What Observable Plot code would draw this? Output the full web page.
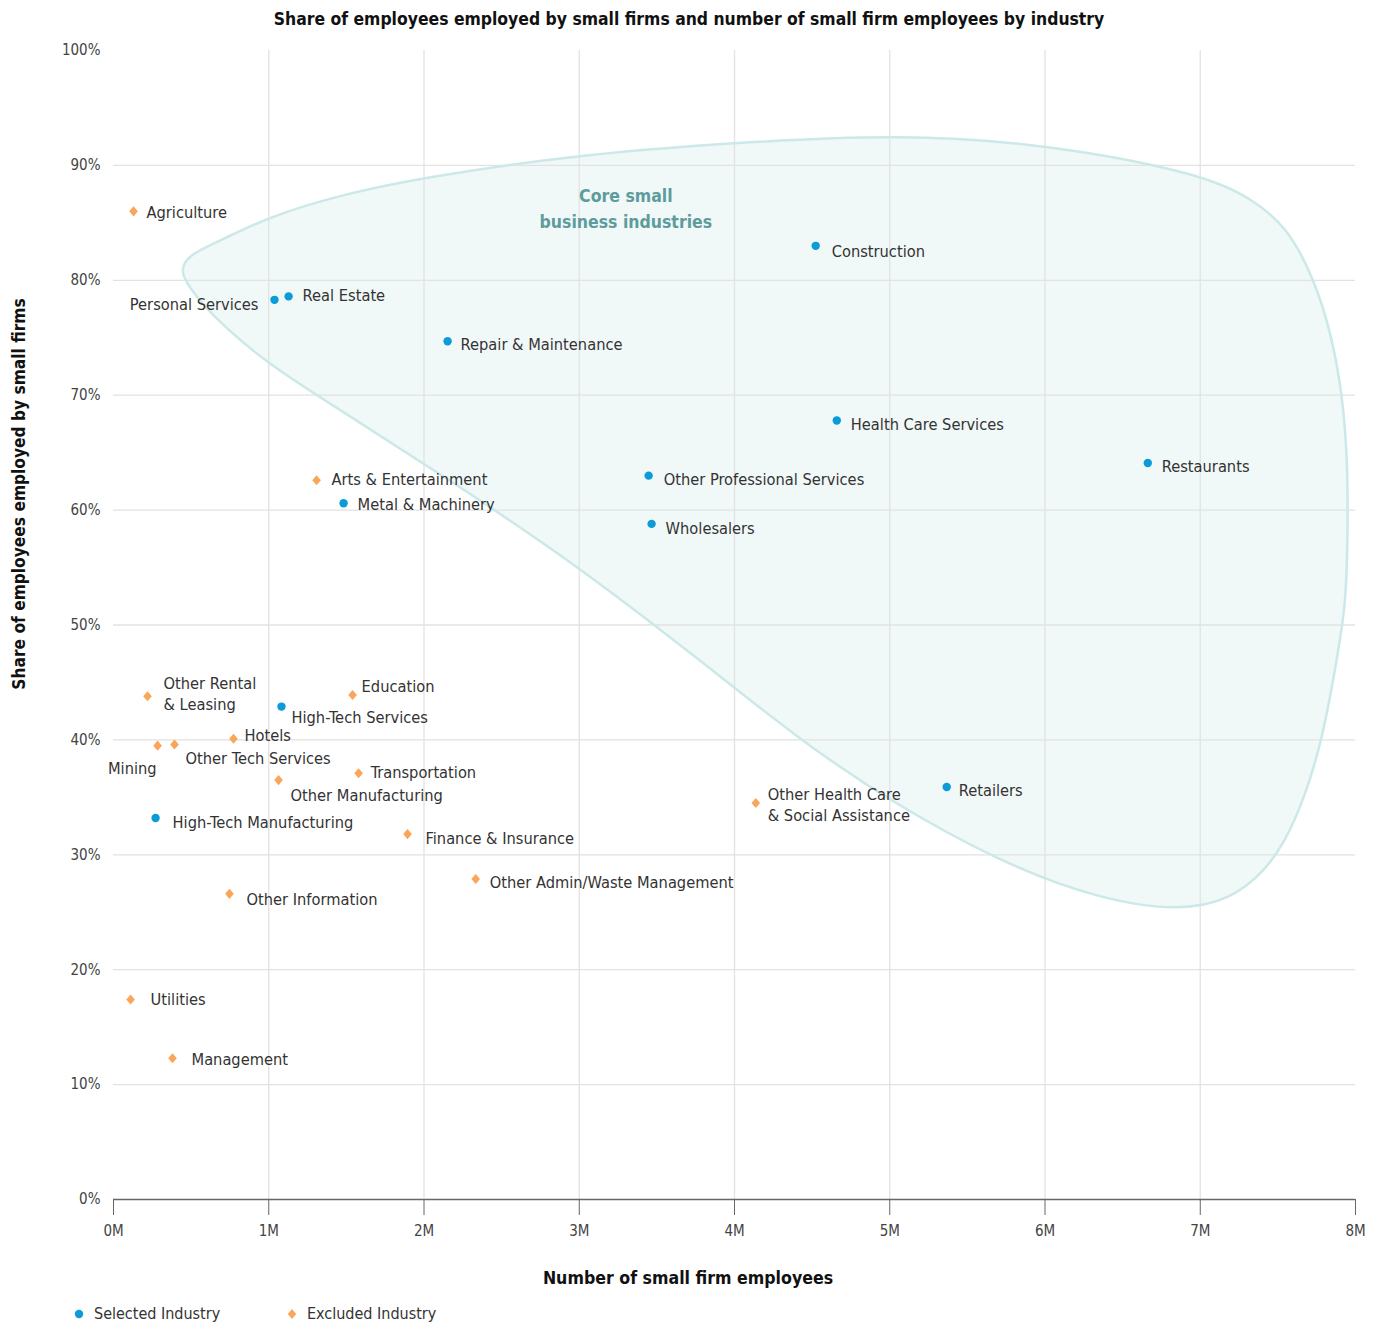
<!DOCTYPE html>
<html><head><meta charset="utf-8">
<script src="https://cdn.jsdelivr.net/npm/d3@7"></script>
<script src="https://cdn.jsdelivr.net/npm/@observablehq/plot@0.6"></script>
<style>
body{margin:0;background:#fff;font-family:"DejaVu Sans Condensed","Liberation Sans Narrow",sans-serif;}
#title{width:1378px;height:38px;line-height:38px;text-align:center;font-weight:bold;font-size:17.4px;color:#111;}
#legend{position:relative;width:1378px;height:25px;font-size:16px;color:#333;}
#legend .item{position:absolute;top:4px;display:flex;align-items:center;}
#legend svg{margin-right:10px;}
</style></head><body>
<div id="title">Share of employees employed by small firms and number of small firm employees by industry</div>
<div id="chart"></div>
<div id="legend">
  <div class="item" style="left:74px"><svg width="10" height="12"><circle cx="5" cy="6" r="4.2" fill="#0a9bd8"/></svg>Selected Industry</div>
  <div class="item" style="left:287px"><svg width="10" height="12"><path d="M5,1L9.2,6L5,11L0.8,6Z" fill="#f9a65a"/></svg>Excluded Industry</div>
</div>
<script>
// ---- Data ----
const selectedNames = ["Personal Services","Real Estate","Repair & Maintenance","Construction","Health Care Services","Restaurants","Other Professional Services","Wholesalers","Metal & Machinery","High-Tech Services","High-Tech Manufacturing","Retailers"];
const selectedEmployees = [1.037,1.128,2.152,4.523,4.659,6.662,3.447,3.466,1.482,1.082,0.271,5.367]; // millions
const selectedShare = [78.3,78.6,74.7,83.0,67.8,64.1,63.0,58.8,60.6,42.9,33.2,35.9]; // %

const excludedNames = ["Agriculture","Arts & Entertainment","Other Rental\n& Leasing","Education","Hotels","Mining","Other Tech Services","Other Manufacturing","Transportation","Finance & Insurance","Other Admin/Waste Management","Other Information","Other Health Care\n& Social Assistance","Utilities","Management"];
const excludedEmployees = [0.129,1.308,0.219,1.540,0.773,0.284,0.393,1.063,1.579,1.894,2.333,0.747,4.137,0.110,0.380];
const excludedShare = [86.0,62.6,43.8,43.9,40.1,39.5,39.6,36.5,37.1,31.8,27.9,26.6,34.5,17.4,12.3];

const xTicks = [0,1,2,3,4,5,6,7,8];
const yTicks = [0,10,20,30,40,50,60,70,80,90,100];

// outline of the "core small business industries" region (millions, %)
const blobX = [0.430,0.480,0.689,0.992,1.443,1.997,2.944,3.994,5.069,5.990,7.002,7.324,7.562,7.729,7.839,7.916,7.950,7.950,7.940,7.890,7.787,7.665,7.549,7.420,7.195,6.873,6.357,5.713,4.992,4.425,3.781,2.989,2.171,1.333,0.992,0.644,0.480];
const blobY = [80.85,82.20,83.46,85.47,87.38,88.95,90.86,91.99,92.69,91.91,89.30,87.21,84.60,80.24,75.63,70.15,64.06,58.22,52.13,47.78,39.95,34.73,31.24,28.63,26.10,25.10,26.10,29.33,34.73,39.95,46.91,55.18,62.58,69.80,72.76,76.76,79.50];
const regionLabel = [{text:"Core small\nbusiness industries", x:3.30, y:86.4}];

// ---- label placement (style) ----
const labelPlace = {
  "Agriculture":[13,0,"start"],
  "Personal Services":[-16,3,"end"],
  "Real Estate":[14,-2,"start"],
  "Repair & Maintenance":[13,2,"start"],
  "Construction":[16,4,"start"],
  "Health Care Services":[14,3,"start"],
  "Restaurants":[14,2,"start"],
  "Other Professional Services":[15,3,"start"],
  "Wholesalers":[14,3,"start"],
  "Arts & Entertainment":[15,-2,"start"],
  "Metal & Machinery":[14,0,"start"],
  "Other Rental\n& Leasing":[16,-3,"start"],
  "Education":[9,-10,"start"],
  "High-Tech Services":[10,10,"start"],
  "Hotels":[11,-4,"start"],
  "Mining":[-1,22,"end"],
  "Other Tech Services":[11,13,"start"],
  "Other Manufacturing":[12,14,"start"],
  "Transportation":[12,-2,"start"],
  "High-Tech Manufacturing":[17,3,"start"],
  "Finance & Insurance":[18,3,"start"],
  "Other Admin/Waste Management":[14,2,"start"],
  "Other Information":[17,4,"start"],
  "Other Health Care\n& Social Assistance":[12,1,"start"],
  "Retailers":[12,2,"start"],
  "Utilities":[20,-1,"start"],
  "Management":[19,0,"start"]
};

const selected = selectedNames.map((n,i)=>({name:n, x:selectedEmployees[i], y:selectedShare[i]}));
const excluded = excludedNames.map((n,i)=>({name:n, x:excludedEmployees[i], y:excludedShare[i]}));
const blob = blobX.map((x,i)=>({x, y:blobY[i]}));
const all = [...selected, ...excluded];

const FONT = "'DejaVu Sans Condensed','Liberation Sans Narrow',sans-serif";

// slightly tall diamond symbol
const tallDiamond = {
  draw(ctx, size) {
    const h = Math.sqrt(size) * 0.63, w = h * 0.86;
    ctx.moveTo(0, -h); ctx.lineTo(w, 0); ctx.lineTo(0, h); ctx.lineTo(-w, 0); ctx.closePath();
  }
};

const labelMarks = all.map(d => {
  const p = labelPlace[d.name] || [12,0,"start"];
  return Plot.text([d], {x:"x", y:"y", text:"name", dx:p[0], dy:p[1], textAnchor:p[2], fontSize:16.3, fill:"#333", lineHeight:1.28});
});

const W = 1378, H = 1262;
const chart = Plot.plot({
  width: W, height: H,
  marginLeft: 113, marginRight: 23, marginTop: 12, marginBottom: 101,
  style: {fontFamily: FONT, background:"#fff", overflow:"visible"},
  x: {domain:[0,8]},
  y: {domain:[0,100]},
  marks: [
    Plot.line(blob, {x:"x", y:"y", curve:"basis-closed", fill:"#f1f8f8", stroke:"none"}),
    Plot.ruleY(yTicks.filter(d=>d>0 && d<100), {y:d=>d, stroke:"#e2e2e2", strokeWidth:1.3}),
    Plot.ruleX(xTicks.filter(d=>d>0 && d<8), {x:d=>d, stroke:"#e2e2e2", strokeWidth:1.3}),
    Plot.line(blob, {x:"x", y:"y", curve:"basis-closed", fill:"none", stroke:"#cce8e8", strokeWidth:2.5}),
    Plot.ruleY([0], {stroke:"#666", strokeWidth:1.5}),
    Plot.axisX({ticks:xTicks, tickSize:16, tickPadding:10, tickFormat:d=>d+"M", fontSize:15, stroke:"#666", color:"#444", label:null}),
    Plot.axisY({ticks:yTicks, tickSize:0, tickPadding:13, tickFormat:d=>d+"%", fontSize:15, color:"#444", label:null}),
    Plot.text(regionLabel, {x:"x", y:"y", text:"text", fontSize:17.5, fontWeight:"bold", fill:"#5e9c9c", lineHeight:1.45}),
    Plot.dot(selected, {x:"x", y:"y", r:4.2, fill:"#0a9bd8", stroke:"none"}),
    Plot.dot(excluded, {x:"x", y:"y", r:4.5, symbol:tallDiamond, fill:"#f9a65a", stroke:"none"}),
    ...labelMarks
  ]
});

const svg = d3.select(chart);
svg.append("text").attr("transform","translate(20,456) rotate(-90)").attr("text-anchor","middle")
  .attr("dominant-baseline","middle").attr("font-size",17.2).attr("font-weight","bold").attr("fill","#111")
  .attr("font-family",FONT).text("Share of employees employed by small firms");
svg.append("text").attr("x",688).attr("y",1241).attr("text-anchor","middle")
  .attr("dominant-baseline","middle").attr("font-size",17.6).attr("font-weight","bold").attr("fill","#111")
  .attr("font-family",FONT).text("Number of small firm employees");

document.getElementById("chart").appendChild(chart);
</script>
</body></html>
